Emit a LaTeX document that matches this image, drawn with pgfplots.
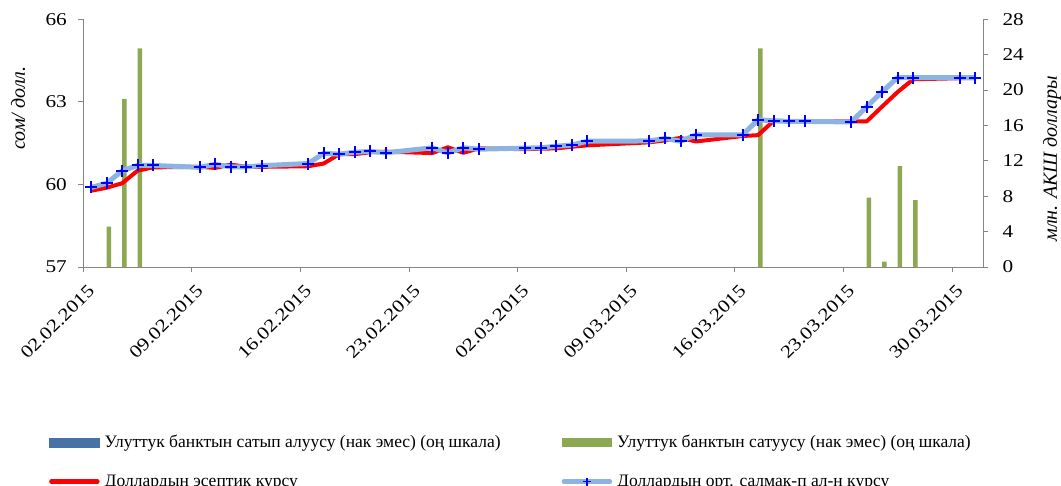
\documentclass[border=0pt]{standalone}
\usepackage{pgfplots}
\pgfplotsset{compat=1.18}
\usepackage{fontspec}
\setmainfont{Liberation Serif}
\newfontfamily\widefont[FakeStretch=1.18]{Liberation Serif}
\definecolor{nbblue}{RGB}{70,114,168}
\definecolor{nbgreen}{RGB}{141,168,82}
\definecolor{lblue}{RGB}{141,179,226}
\definecolor{axgray}{RGB}{134,134,134}
\definecolor{mblue}{RGB}{0,0,255}

\pgfplotstableread{
x y
0.5 59.89
1.5 60.04
2.5 60.49
3.5 60.69
4.5 60.69
7.5 60.62
8.5 60.73
9.5 60.64
10.5 60.64
11.5 60.68
14.5 60.76
15.5 61.13
16.5 61.10
17.5 61.17
18.5 61.20
19.5 61.15
22.5 61.33
23.5 61.15
24.5 61.33
25.5 61.28
28.5 61.32
29.5 61.33
30.5 61.39
31.5 61.43
32.5 61.57
36.5 61.58
37.5 61.67
38.5 61.57
39.5 61.80
42.5 61.80
43.5 62.35
44.5 62.31
45.5 62.29
46.5 62.29
49.5 62.27
50.5 62.82
51.5 63.37
52.5 63.88
53.5 63.88
56.5 63.88
57.5 63.88
}\avgrate

\pgfplotstableread{
x y
0.5 59.77
1.5 59.88
2.5 60.04
3.5 60.50
4.5 60.62
7.5 60.64
8.5 60.60
9.5 60.72
10.5 60.64
11.5 60.64
14.5 60.66
15.5 60.76
16.5 61.10
17.5 61.10
18.5 61.17
19.5 61.19
22.5 61.14
23.5 61.35
24.5 61.15
25.5 61.31
28.5 61.28
29.5 61.30
30.5 61.31
31.5 61.37
32.5 61.42
36.5 61.53
37.5 61.60
38.5 61.69
39.5 61.56
42.5 61.76
43.5 61.79
44.5 62.31
45.5 62.30
46.5 62.29
49.5 62.29
50.5 62.29
51.5 62.83
52.5 63.36
53.5 63.82
56.5 63.86
57.5 63.86
}\offrate

\pgfplotstableread{
x y
1.5 4.55
2.5 19.0
3.5 24.7
43.5 24.7
50.5 7.83
51.5 0.6
52.5 11.4
53.5 7.56
}\nbsale

\begin{document}
\begin{tikzpicture}
\path[use as bounding box] (0,0) rectangle (1061pt,486pt);
% bar axis (right scale)
\begin{axis}[
  at={(83.3pt,219pt)}, anchor=south west,
  width=899.7pt, height=247.7pt, scale only axis,
  xmin=0, xmax=58, ymin=0, ymax=28,
  axis x line=none, axis y line*=right,
  ytick={0,4,...,28},
  tick align=outside, major tick length=5pt,
  axis line style={axgray, line width=0.8pt},
  y axis line style={-},
  tick style={axgray, line width=0.8pt},
  /pgf/number format/assume math mode=true,
  ticklabel style={font=\widefont\fontsize{18}{18}\selectfont, black},
  yticklabel style={xshift=11pt},
  legend columns=2,
  legend cell align=left,
  legend style={draw=none, fill=none,
    at={(axis description cs:-0.0415,-0.666)}, anchor=north west,
    font=\fontsize{17.5}{20}\selectfont,
    nodes={inner sep=0pt, text height=13pt, text depth=4pt},
    row sep=22pt,
    /tikz/every odd column/.style={column sep=5pt},
    /tikz/every even column/.style={column sep=0pt}},
]
\addlegendimage{legend image code/.code={\fill[nbblue] (0pt,-4.5pt) rectangle (50pt,4.5pt);}}
\addlegendentry{\makebox[457pt][l]{Улуттук банктын сатып алуусу (нак эмес) (оң шкала)}}
\addplot[ybar, fill=nbgreen, draw=none, bar width=4.5pt, bar shift=2.25pt,
  legend image code/.code={\fill[nbgreen] (0pt,-4.5pt) rectangle (50pt,4.5pt);}]
  table[x=x, y=y] {\nbsale};
\addlegendentry{Улуттук банктын сатуусу (нак эмес) (оң шкала)}
\addlegendimage{legend image code/.code={\draw[red, line width=4.5pt, line cap=round] (2pt,0pt) -- (48pt,0pt);}}
\addlegendentry{\makebox[457pt][l]{Доллардын эсептик курсу}}
\addlegendimage{legend image code/.code={\draw[lblue, line width=4.5pt, line cap=round] (2pt,0pt) -- (48pt,0pt); \draw[mblue, line width=1.6pt] (21pt,0pt) -- (29pt,0pt) (25pt,-4pt) -- (25pt,4pt);}}
\addlegendentry{Доллардын орт. салмак-п ал-н курсу}
\end{axis}
% line axis (left scale)
\begin{axis}[
  at={(83.3pt,219pt)}, anchor=south west,
  width=899.7pt, height=247.7pt, scale only axis,
  xmin=0, xmax=58, ymin=57, ymax=66,
  axis x line*=bottom, axis y line*=left,
  ytick={57,60,63,66},
  xtick={0,7,...,56},
  xticklabels={02.02.2015,09.02.2015,16.02.2015,23.02.2015,02.03.2015,09.03.2015,16.03.2015,23.03.2015,30.03.2015},
  tick align=outside, major tick length=5pt,
  axis line style={axgray, line width=0.8pt, -},
  tick style={axgray, line width=0.8pt},
  /pgf/number format/assume math mode=true,
  ticklabel style={font=\widefont\fontsize{18}{18}\selectfont, black},
  yticklabel style={xshift=-8pt},
  xticklabel style={inner sep=0pt, xshift=8pt, yshift=-16pt, rotate=45, anchor=east},
]
\addplot[red, line width=4pt, line join=round] table[x=x, y=y] {\offrate};
\addplot[lblue, line width=5pt, line join=round, mark=+, mark size=6pt,
  mark options={mblue, line width=2pt}] table[x=x, y=y] {\avgrate};
\end{axis}
\node[rotate=90, font=\itshape\fontsize{20}{20}\selectfont] at (18pt,378pt) {сом/ долл.};
\node[rotate=90, font=\itshape\fontsize{20}{20}\selectfont] at (1052pt,327pt) {млн. АКШ доллары};
\end{tikzpicture}
\end{document}
